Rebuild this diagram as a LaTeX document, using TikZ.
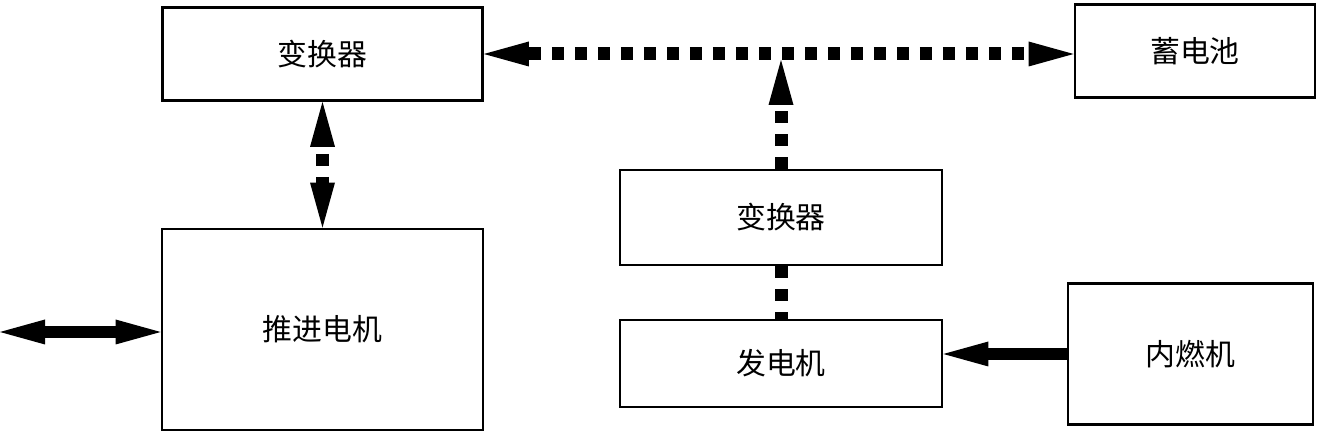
\documentclass[tikz,border=0pt]{standalone}
\usepackage{fontspec}
\newfontfamily\cjk{Noto Sans CJK SC}
\usetikzlibrary{arrows.meta,positioning}

\begin{document}
\begin{tikzpicture}[
        box/.style={draw, rectangle, inner sep=0pt, line width=1.6pt, font=\cjk\fontsize{17}{20}\selectfont},
        dots/.style={line width=0.26cm, dash pattern=on 0.24cm off 0.22cm},
        shaftline/.style={line width=0.25cm},
        >={Triangle[length=0.9cm, width=0.5cm, line width=0pt]}
    ]
        \useasboundingbox (0,0) rectangle (26.46,8.64);

        \node[box, minimum width=6.4cm, minimum height=1.86cm] (conv1) at (6.45,7.56) {变换器};
        \node[box, minimum width=4.8cm, minimum height=1.86cm] (bat) at (23.9,7.62) {蓄电池};
        \node[box, minimum width=6.44cm, minimum height=1.9cm] (conv2) at (15.62,4.29) {变换器};
        \node[box, minimum width=6.44cm, minimum height=1.74cm] (gen) at (15.62,1.37) {发电机};
        \node[box, minimum width=6.42cm, minimum height=4.02cm] (motor) at (6.45,2.05) {推进电机};
        \node[box, minimum width=4.9cm, minimum height=2.82cm] (eng) at (23.81,1.56) {内燃机};

        \coordinate (jn) at (conv2.north |- conv1.east);
        \coordinate (shaft) at (0,2.0);

        \draw[dots, <->] (conv1.east) -- (conv1.east -| bat.west);
        \draw[dots, ->, shorten >=0.12cm] (conv2.north) -- (jn);
        \draw[dots, <->, dash phase=0.32cm] (conv1.south) -- (motor.north);
        \draw[dots] (conv2.south) -- (gen.north);

        \draw[shaftline, <->] (shaft) -- (motor.west |- shaft);
        \draw[shaftline, ->] (eng.west) -- (gen.east |- eng.west);
    \end{tikzpicture}
\end{document}
